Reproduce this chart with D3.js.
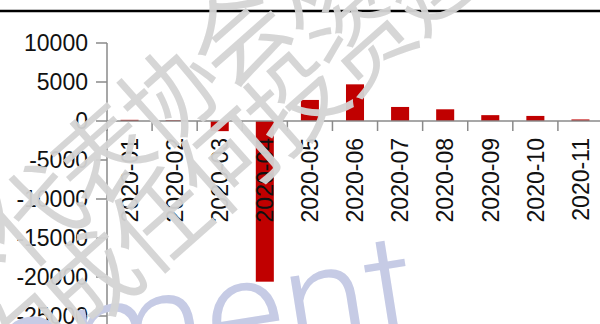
<!DOCTYPE html>
<html>
<head>
<meta charset="utf-8">
<script src="https://cdn.jsdelivr.net/npm/d3@7"></script>
<style>
  html, body { margin: 0; padding: 0; background: #fff; }
  svg { display: block; }
</style>
</head>
<body>
<svg id="chart" width="600" height="324"></svg>
<script>
// Monthly net flows, 2020
const months = ["2020-01", "2020-02", "2020-03", "2020-04", "2020-05", "2020-06",
                "2020-07", "2020-08", "2020-09", "2020-10", "2020-11"];
const flows = [150, 100, -1300, -20600, 2700, 4700, 1800, 1500, 750, 650, 200];
const yTicks = [10000, 5000, 0, -5000, -10000, -15000, -20000, -25000];

// Background marks
const watermarkLines = ["不代表协会观点", "不构成任何投资建议"];
const watermarkWord = "agement";

const svg = d3.select("#chart");
const W = 600, H = 324;
const left = 107, right = 603;

const x = d3.scaleBand().domain(months).range([left, right])
  .paddingInner(0.6).paddingOuter(0.3);
const y = d3.scaleLinear().domain([-25000, 10000]).range([316, 43]);
const step = x.step();

const axisColor = "#8a8a8a";
const textColor = "#111";
const font = "'Liberation Sans', Arial, sans-serif";

// top rule
svg.append("line")
  .attr("x1", 0).attr("x2", W).attr("y1", 11).attr("y2", 11)
  .attr("stroke", "#000").attr("stroke-width", 2.5);

// bars
svg.append("g").selectAll("rect").data(months).join("rect")
  .attr("x", (d) => x(d))
  .attr("width", x.bandwidth())
  .attr("y", (d, i) => y(Math.max(0, flows[i])))
  .attr("height", (d, i) => Math.abs(y(flows[i]) - y(0)))
  .attr("fill", "#c00000");

// y axis
const yAxis = svg.append("g");
yAxis.append("line")
  .attr("x1", left).attr("x2", left).attr("y1", y(10000)).attr("y2", H)
  .attr("stroke", axisColor).attr("stroke-width", 1.5);
yAxis.selectAll("line.tick").data(yTicks).join("line")
  .attr("class", "tick")
  .attr("x1", left - 11).attr("x2", left)
  .attr("y1", (d) => y(d)).attr("y2", (d) => y(d))
  .attr("stroke", axisColor).attr("stroke-width", 1.5);
yAxis.selectAll("text").data(yTicks).join("text")
  .attr("x", 88).attr("y", (d) => y(d))
  .attr("dy", "0.36em")
  .attr("text-anchor", "end")
  .attr("font-family", font).attr("font-size", 23)
  .attr("fill", textColor)
  .text((d) => String(d));

// x axis along zero
const xAxis = svg.append("g");
xAxis.append("line")
  .attr("x1", left).attr("x2", W).attr("y1", y(0)).attr("y2", y(0))
  .attr("stroke", axisColor).attr("stroke-width", 1.5);
const boundaries = months.map((m) => x(m) - step * 0.3).concat([x(months[months.length - 1]) + step * 0.7]);
xAxis.selectAll("line.tick").data(boundaries).join("line")
  .attr("class", "tick")
  .attr("x1", (d) => d).attr("x2", (d) => d)
  .attr("y1", y(0)).attr("y2", y(0) + 10)
  .attr("stroke", axisColor).attr("stroke-width", 1.5);
xAxis.selectAll("text").data(months).join("text")
  .attr("transform", (d) => `translate(${x(d) + x.bandwidth() / 2},${y(0) + 17}) rotate(-90)`)
  .attr("dy", "0.36em")
  .attr("text-anchor", "end")
  .attr("font-family", font).attr("font-size", 23)
  .attr("fill", textColor)
  .text((d) => d);

// lavender word mark
svg.append("text")
  .attr("transform", "translate(424,338) rotate(-9)")
  .attr("text-anchor", "end")
  .attr("font-family", "Roboto, 'Open Sans', sans-serif")
  .attr("font-weight", 300)
  .attr("font-size", 154)
  .attr("fill", "#c6cbe5")
  .text(watermarkWord);

// grey diagonal caption
const ang = -41.5 * Math.PI / 180;
const dir = [Math.cos(ang), Math.sin(ang)];
const lineAnchors = [
  { line: 0, idx: 4, cx: 240, cy: 36 },
  { line: 1, idx: 6, cx: 365, cy: 42 }
];
const stepWm = 91;
const wmChars = [];
lineAnchors.forEach((a) => {
  Array.from(watermarkLines[a.line]).forEach((ch, i) => {
    const k = i - a.idx;
    wmChars.push({ ch, cx: a.cx + k * stepWm * dir[0], cy: a.cy + k * stepWm * dir[1] });
  });
});
svg.append("g").selectAll("text").data(wmChars).join("text")
  .attr("transform", (d) => `translate(${d.cx},${d.cy}) rotate(-41.5)`)
  .attr("text-anchor", "middle")
  .attr("dy", "0.35em")
  .attr("font-family", "'Noto Sans CJK SC', sans-serif")
  .attr("font-weight", 400)
  .attr("font-size", 96)
  .attr("fill", "#d4d4d4")
  .attr("fill-opacity", 0.95)
  .text((d) => d.ch);
</script>
</body>
</html>
